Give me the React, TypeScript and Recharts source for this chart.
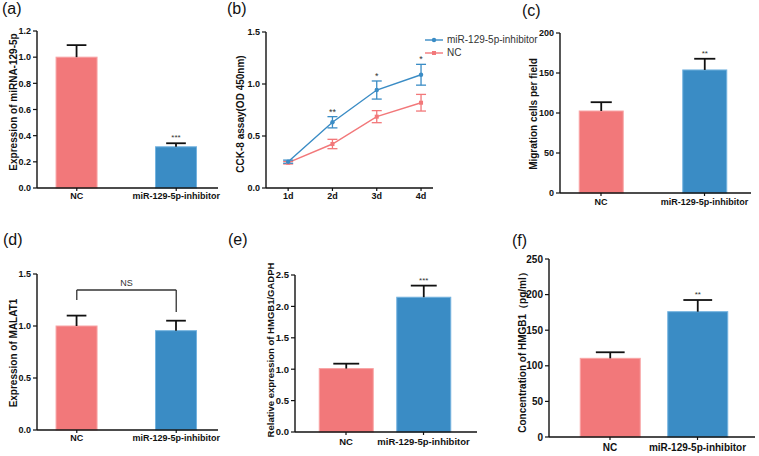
import React from 'react';
import { BarChart, Bar, Cell, LineChart, Line, XAxis, YAxis, ErrorBar, LabelList, Legend, ReferenceLine } from 'recharts';

const groups = ['NC', 'miR-129-5p-inhibitor'];

// (a) miRNA-129-5p expression
const mirnaMean = [1.0, 0.315];
const mirnaErr = [0.092, 0.027];
const mirnaStars = ['', '***'];
const mirnaTicks = [0, 0.2, 0.4, 0.6, 0.8, 1.0, 1.2];

// (b) CCK-8
const days = ['1d', '2d', '3d', '4d'];
const cckInhibitor = [0.253, 0.632, 0.942, 1.089];
const cckInhibitorErr = [0.015, 0.054, 0.087, 0.1];
const cckNC = [0.243, 0.423, 0.686, 0.82];
const cckNCErr = [0.012, 0.045, 0.058, 0.08];
const cckStars = ['', '**', '*', '*'];
const cckTicks = [0, 0.5, 1.0, 1.5];

// (c) migration
const migrationMean = [102.5, 153.8];
const migrationErr = [11, 14];
const migrationStars = ['', '**'];
const migrationTicks = [0, 50, 100, 150, 200];

// (d) MALAT1
const malatMean = [1.0, 0.955];
const malatErr = [0.1, 0.096];
const malatStars = ['', ''];
const malatTicks = [0, 0.5, 1.0, 1.5];
const nsBracket = { top: 1.346, left: 1.25, right: 1.135 };

// (e) HMGB1/GADPH
const hmgbMean = [1.01, 2.146];
const hmgbErr = [0.078, 0.185];
const hmgbStars = ['', '***'];
const hmgbTicks = [0, 0.5, 1.0, 1.5, 2.0, 2.5];

// (f) HMGB1 concentration
const concMean = [110.5, 176];
const concErr = [8.5, 16.4];
const concStars = ['', '**'];
const concTicks = [0, 50, 100, 150, 200, 250];

const FONT = '"Liberation Sans", Arial, sans-serif';
const PINK = '#F2787A';
const BLUE = '#3A8CC5';
const fills = [PINK, BLUE];
const edges = ['#F8A4A5', '#74B3DF'];
const YW = 26;
const XH = 18;

const axisLine = { stroke: '#111', strokeWidth: 1.4 };
const tickLine = { stroke: '#111', strokeWidth: 1.2 };
const tickStyle = (size: number) => ({ fontSize: size, fontWeight: 'bold' as const, fill: '#111', fontFamily: FONT });

type Box = { x: number; y: number; w: number; h: number };
type Plot = { l: number; t: number; r: number; b: number };

const marginOf = (box: Box, plot: Plot) => ({
  left: plot.l - box.x - YW,
  top: plot.t - box.y,
  right: box.x + box.w - plot.r,
  bottom: box.y + box.h - plot.b - XH,
});

const yTitle = (text: string, cx: number, cy: number, size = 10) => () => (
  <text
    x={cx}
    y={cy}
    transform={`rotate(-90, ${cx}, ${cy})`}
    textAnchor="middle"
    dominantBaseline="central"
    fontSize={size}
    fontWeight="bold"
    fill="#111"
    fontFamily={FONT}
  >
    {text}
  </text>
);

const BarShape = (props: any) => {
  const { x, y, width, height, fill, stroke, payload } = props;
  const ppu = height / payload.value;
  const ey = y - payload.err * ppu;
  const cx = x + width / 2;
  const cap = width * 0.48;
  return (
    <g>
      <rect x={x} y={y} width={width} height={height} fill={fill} stroke={stroke} strokeWidth={1} />
      <line x1={cx} x2={cx} y1={y} y2={ey} stroke="#111" strokeWidth={1.8} />
      <line x1={cx - cap / 2} x2={cx + cap / 2} y1={ey} y2={ey} stroke="#111" strokeWidth={1.8} />
      {payload.star ? (
        <text x={cx} y={ey - 3} textAnchor="middle" fontSize={8} fill="#333" fontFamily={FONT}>
          {payload.star}
        </text>
      ) : null}
    </g>
  );
};

interface BarPanelProps {
  box: Box;
  plot: Plot;
  xDomain: [number, number];
  barSize: number;
  mean: number[];
  err: number[];
  stars: string[];
  ticks: number[];
  decimals: number;
  title: string;
  titleAt: [number, number];
  titleSize?: number;
  fontSize?: number;
  tickGap?: number;
  children?: React.ReactNode;
}

const BarPanel: React.FC<BarPanelProps> = ({ box, plot, xDomain, barSize, mean, err, stars, ticks, decimals, title, titleAt, titleSize = 10, fontSize = 9, tickGap = 2, children }) => {
  const rows = groups.map((g, i) => ({ idx: i, name: g, value: mean[i], err: err[i], star: stars[i] }));
  return (
    <div style={{ position: 'absolute', left: box.x, top: box.y }}>
      <BarChart width={box.w} height={box.h} data={rows} margin={marginOf(box, plot)}>
        <XAxis
          type="number"
          dataKey="idx"
          domain={xDomain}
          ticks={[0, 1]}
          tickFormatter={(v: number) => groups[v]}
          height={XH}
          tickSize={3}
          tickMargin={tickGap}
          axisLine={axisLine}
          tickLine={tickLine}
          tick={tickStyle(fontSize)}
          interval={0}
        />
        <YAxis
          domain={[ticks[0], ticks[ticks.length - 1]]}
          ticks={ticks}
          tickFormatter={(v: number) => v.toFixed(decimals)}
          width={YW}
          tickSize={4}
          axisLine={axisLine}
          tickLine={tickLine}
          tick={tickStyle(fontSize)}
          label={yTitle(title, titleAt[0] - box.x, titleAt[1] - box.y, titleSize)}
        />
        <Bar dataKey="value" barSize={barSize} shape={BarShape} isAnimationActive={false}>
          {rows.map((r, i) => (
            <Cell key={r.name} fill={fills[i]} stroke={edges[i]} />
          ))}
        </Bar>
        {children}
      </BarChart>
    </div>
  );
};

const cckRows = days.map((d, i) => ({
  day: i + 1,
  inh: cckInhibitor[i],
  inhErr: cckInhibitorErr[i],
  nc: cckNC[i],
  ncErr: cckNCErr[i],
  starY: cckStars[i] ? cckInhibitor[i] + cckInhibitorErr[i] : null,
  star: cckStars[i],
}));

const legendItems = [
  { name: 'miR-129-5p-inhibitor', color: BLUE, square: false },
  { name: 'NC', color: PINK, square: true },
];

const CckLegend = () => (
  <div style={{ fontFamily: FONT, fontSize: 10, color: '#333' }}>
    {legendItems.map((it) => (
      <div key={it.name} style={{ display: 'flex', alignItems: 'center', height: 13 }}>
        <svg width={18} height={8} style={{ marginRight: 4 }}>
          <line x1={0} x2={18} y1={4} y2={4} stroke={it.color} strokeWidth={1.4} />
          {it.square ? <rect x={7} y={2} width={4} height={4} fill={it.color} /> : <circle cx={9} cy={4} r={2.2} fill={it.color} />}
        </svg>
        <span>{it.name}</span>
      </div>
    ))}
  </div>
);

const CckPanel = () => {
  const box: Box = { x: 225, y: 0, w: 315, h: 215 };
  const plot: Plot = { l: 266, t: 32, r: 433, b: 188 };
  return (
    <div style={{ position: 'absolute', left: box.x, top: box.y }}>
      <LineChart width={box.w} height={box.h} data={cckRows} margin={marginOf(box, plot)}>
        <XAxis
          type="number"
          dataKey="day"
          domain={[0.5, 4.27]}
          ticks={[1, 2, 3, 4]}
          tickFormatter={(v: number) => days[v - 1]}
          height={XH}
          tickSize={3}
          axisLine={axisLine}
          tickLine={tickLine}
          tick={tickStyle(9)}
          interval={0}
        />
        <YAxis
          domain={[0, 1.5]}
          ticks={cckTicks}
          tickFormatter={(v: number) => v.toFixed(1)}
          width={YW}
          tickSize={4}
          axisLine={axisLine}
          tickLine={tickLine}
          tick={tickStyle(9)}
          label={yTitle('CCK-8 assay(OD 450nm)', 240 - box.x, 114 - box.y)}
        />
        <Line
          dataKey="nc"
          stroke={PINK}
          strokeWidth={1.4}
          isAnimationActive={false}
          dot={(p: any) => <rect key={`nc${p.index}`} x={p.cx - 2} y={p.cy - 2} width={4} height={4} fill={PINK} />}
        >
          <ErrorBar dataKey="ncErr" width={5} stroke={PINK} strokeWidth={1.3} />
        </Line>
        <Line
          dataKey="inh"
          stroke={BLUE}
          strokeWidth={1.4}
          isAnimationActive={false}
          dot={(p: any) => <circle key={`inh${p.index}`} cx={p.cx} cy={p.cy} r={2.2} fill={BLUE} />}
        >
          <ErrorBar dataKey="inhErr" width={5} stroke={BLUE} strokeWidth={1.3} />
        </Line>
        <Line dataKey="starY" stroke="none" dot={false} legendType="none" isAnimationActive={false}>
          <LabelList dataKey="star" position="top" offset={2} fontSize={9} fill="#333" />
        </Line>
        <Legend layout="vertical" align="center" verticalAlign="middle" wrapperStyle={{ left: 200, top: 33, width: 120 }} content={CckLegend} />
      </LineChart>
    </div>
  );
};

const letters = [
  { t: '(a)', x: 2, y: 1 },
  { t: '(b)', x: 227, y: 1 },
  { t: '(c)', x: 522, y: 3 },
  { t: '(d)', x: 3, y: 232 },
  { t: '(e)', x: 228, y: 232 },
  { t: '(f)', x: 512, y: 233 },
];

export default function App() {
  return (
    <div style={{ position: 'absolute', left: 0, top: 0, width: 759, height: 456, background: '#fff', overflow: 'hidden', fontFamily: FONT }}>
      <BarPanel
        box={{ x: 0, y: 0, w: 250, h: 215 }}
        plot={{ l: 37, t: 31, r: 218, b: 188 }}
        xDomain={[-0.4, 1.42]}
        barSize={41}
        mean={mirnaMean}
        err={mirnaErr}
        stars={mirnaStars}
        ticks={mirnaTicks}
        decimals={1}
        title="Expression of miRNA-129-5p"
        titleAt={[13, 102]}
      />
      <CckPanel />
      <BarPanel
        box={{ x: 505, y: 0, w: 254, h: 215 }}
        plot={{ l: 560, t: 33, r: 751, b: 193 }}
        xDomain={[-0.396, 1.449]}
        barSize={44}
        mean={migrationMean}
        err={migrationErr}
        stars={migrationStars}
        ticks={migrationTicks}
        decimals={0}
        title="Migration cells per field"
        titleAt={[533, 114]}
        tickGap={3}
      />
      <BarPanel
        box={{ x: 0, y: 225, w: 250, h: 231 }}
        plot={{ l: 37, t: 274, r: 218, b: 430 }}
        xDomain={[-0.4, 1.42]}
        barSize={41}
        mean={malatMean}
        err={malatErr}
        stars={malatStars}
        ticks={malatTicks}
        decimals={1}
        title="Expression of MALAT1"
        titleAt={[13, 353]}
      >
        <ReferenceLine segment={[{ x: 0, y: nsBracket.top }, { x: 1, y: nsBracket.top }]} stroke="#333" strokeWidth={1.3} label={{ value: 'NS', position: 'top', offset: 4, fontSize: 9, fill: '#333' }} />
        <ReferenceLine segment={[{ x: 0, y: nsBracket.left }, { x: 0, y: nsBracket.top }]} stroke="#333" strokeWidth={1.3} />
        <ReferenceLine segment={[{ x: 1, y: nsBracket.right }, { x: 1, y: nsBracket.top }]} stroke="#333" strokeWidth={1.3} />
      </BarPanel>
      <BarPanel
        box={{ x: 225, y: 225, w: 260, h: 231 }}
        plot={{ l: 295, t: 275, r: 477, b: 432 }}
        xDomain={[-0.658, 1.69]}
        barSize={54}
        mean={hmgbMean}
        err={hmgbErr}
        stars={hmgbStars}
        ticks={hmgbTicks}
        decimals={1}
        title="Relative expression of HMGB1/GADPH"
        titleAt={[270, 350]}
        titleSize={9.5}
        fontSize={9.5}
        tickGap={3}
      />
      <BarPanel
        box={{ x: 485, y: 225, w: 274, h: 231 }}
        plot={{ l: 549, t: 259, r: 755, b: 437 }}
        xDomain={[-0.697, 1.657]}
        barSize={60}
        mean={concMean}
        err={concErr}
        stars={concStars}
        ticks={concTicks}
        decimals={0}
        title="Concentration of HMGB1（pg/ml）"
        titleAt={[522, 350]}
        titleSize={10}
        fontSize={10}
        tickGap={4}
      />
      {letters.map((l) => (
        <div key={l.t} style={{ position: 'absolute', left: l.x, top: l.y, fontSize: 16, lineHeight: '16px', color: '#111' }}>
          {l.t}
        </div>
      ))}
    </div>
  );
}
